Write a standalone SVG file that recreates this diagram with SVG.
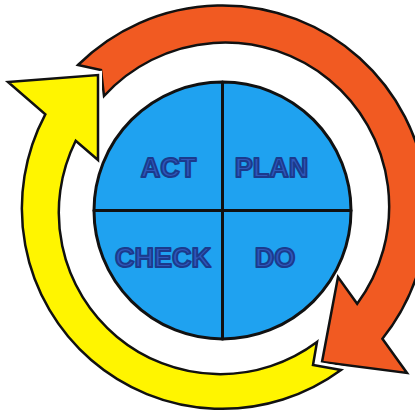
<svg xmlns="http://www.w3.org/2000/svg" width="415" height="411" viewBox="0 0 415 411">
  <style>
    .quad { fill: #1FA2F0; stroke: #111; stroke-width: 3; stroke-linejoin: round; }
    .label { font-family: "Liberation Sans", Arial, sans-serif; font-weight: bold; font-size: 27px; text-anchor: middle; fill: #2F58BC; stroke: #1B3A8C; stroke-width: 2; stroke-linejoin: round; }
    .band { stroke: #111; stroke-width: 2.5; stroke-linejoin: miter; }
    .halo { fill: none; stroke: #fff; stroke-width: 8; stroke-linejoin: miter; }
  </style>
  <rect width="415" height="411" fill="#fff"/>

  <!-- cycle arrows -->
  <g id="connectors">
    <!-- orange: from the notched tail at upper left, clockwise to the head at lower right -->
    <path id="arrow-plan-do" class="band" fill="#F15A22"
          d="M 78 65 A 205 205 0 0 1 382.4 338.7 L 407 373 L 322 362 L 338 277 L 357.2 303.8 A 164 164 0 0 0 104 96 L 101 70 Z"/>
    <!-- yellow: from the notched tail at lower right, clockwise to the head at upper left -->
    <path class="halo"
          d="M 341 370 A 200.5 200.5 0 0 1 45.3 114.3 L 8 82 L 98 75 L 98 160 L 75.7 140.7 A 161.5 161.5 0 0 0 317 342 L 313 365 Z"/>
    <path id="arrow-check-act" class="band" fill="#FFF500"
          d="M 341 370 A 200.5 200.5 0 0 1 45.3 114.3 L 8 82 L 98 75 L 98 160 L 75.7 140.7 A 161.5 161.5 0 0 0 317 342 L 313 365 Z"/>
  </g>

  <g id="act">
    <path class="quad" d="M 222.5 210.5 L 94 210.5 A 128.5 128.5 0 0 1 222.5 82 Z"/>
    <text class="label" x="168.5" y="177">ACT</text>
  </g>
  <g id="plan">
    <path class="quad" d="M 222.5 210.5 L 222.5 82 A 128.5 128.5 0 0 1 351 210.5 Z"/>
    <text class="label" x="271.5" y="177">PLAN</text>
  </g>
  <g id="do">
    <path class="quad" d="M 222.5 210.5 L 351 210.5 A 128.5 128.5 0 0 1 222.5 339 Z"/>
    <text class="label" x="275" y="267">DO</text>
  </g>
  <g id="check">
    <path class="quad" d="M 222.5 210.5 L 222.5 339 A 128.5 128.5 0 0 1 94 210.5 Z"/>
    <text class="label" x="163" y="267">CHECK</text>
  </g>
</svg>
